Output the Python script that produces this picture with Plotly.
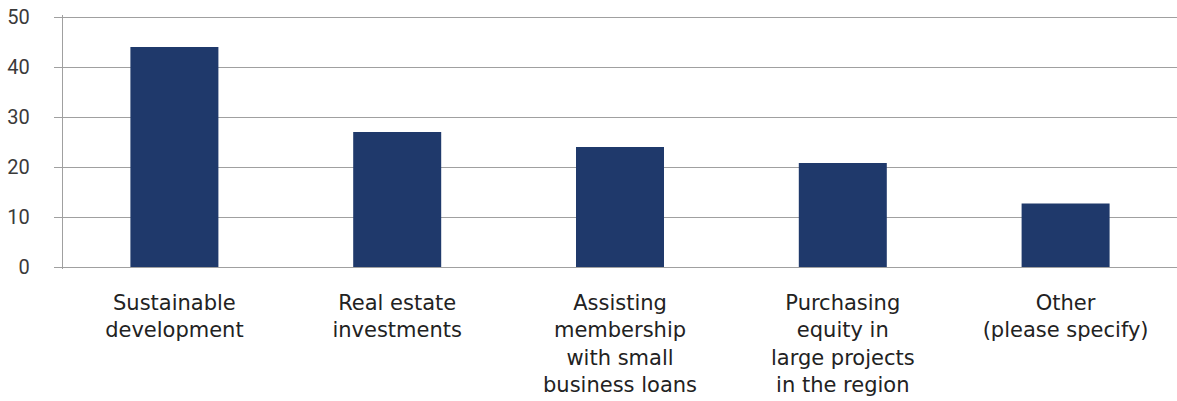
import plotly.graph_objects as go

categories = [
    "Sustainable<br>development",
    "Real estate<br>investments",
    "Assisting<br>membership<br>with small<br>business loans",
    "Purchasing<br>equity in<br>large projects<br>in the region",
    "Other<br>(please specify)",
]
values = [44, 27, 24, 20.8, 12.7]
y_ticks = [0, 10, 20, 30, 40, 50]

fig = go.Figure(
    go.Bar(
        x=categories,
        y=values,
        marker=dict(color="#1F396B", line=dict(width=0)),
        width=0.395,
    )
)

fig.update_layout(
    width=1177,
    height=401,
    margin=dict(l=63, r=0, t=15, b=132),
    paper_bgcolor="white",
    plot_bgcolor="white",
    showlegend=False,
)

fig.update_xaxes(
    automargin=False,
    showgrid=False,
    showline=False,
    ticks="",
    ticklabelstandoff=19,
    tickfont=dict(family="DejaVu Sans", size=21, color="#222222"),
)
fig.update_yaxes(
    automargin=False,
    range=[-0.4, 50.4],
    tickvals=y_ticks,
    showgrid=True,
    gridcolor="#A0A0A0",
    gridwidth=1.3,
    showline=True,
    linecolor="#A0A0A0",
    linewidth=1.3,
    ticks="outside",
    ticklen=8,
    tickcolor="#A0A0A0",
    tickwidth=1.3,
    zeroline=False,
    ticklabelstandoff=20,
    tickfont=dict(family="Roboto", size=20, color="#3A3A3A"),
)

fig.write_html(
    "out.html",
    config={"displayModeBar": False},
    post_script="document.body.style.margin='0';document.body.style.overflow='hidden';",
)
